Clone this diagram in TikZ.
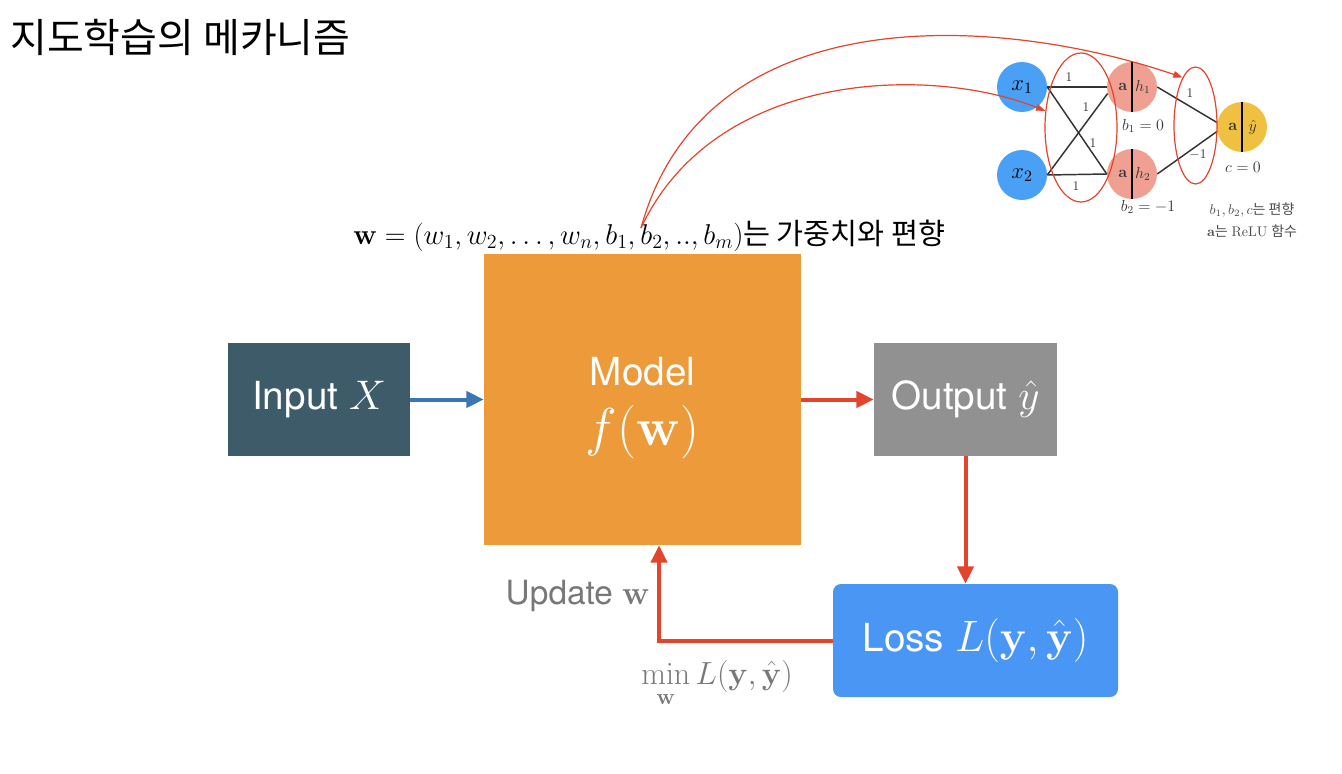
\RequirePackage{fix-cm}
\documentclass[tikz,border=0pt]{standalone}
\usepackage[no-math]{fontspec}
\usepackage{amsmath}
\setmainfont{TeX Gyre Heros}
\newfontfamily\kr{Noto Sans CJK KR}
\usetikzlibrary{arrows.meta,shapes.geometric}
\definecolor{inbox}{HTML}{3D5B69}
\definecolor{modelbox}{HTML}{EC9A3A}
\definecolor{outbox}{HTML}{919191}
\definecolor{lossbox}{HTML}{4A96F5}
\definecolor{redline}{HTML}{E3442B}
\definecolor{blueline}{HTML}{3A76B5}
\definecolor{xnode}{HTML}{4AA0F5}
\definecolor{hnode}{HTML}{F0A092}
\definecolor{ynode}{HTML}{F0C040}
\definecolor{graytxt}{HTML}{787878}
\tikzset{
  box/.style={rectangle, inner sep=0pt, text=white, font=\fontsize{29}{34}\selectfont},
  flow/.style={line width=3pt, -{Triangle[length=13pt,width=12pt]}},
  neuron/.style={circle, inner sep=0pt, minimum size=37.5pt},
  wire/.style={line width=1.1pt, draw=black!80},
  wt/.style={inner sep=0pt, font=\fontsize{10}{12}\selectfont, text=black!80},
  sel/.style={ellipse, draw=redline, line width=0.9pt, inner sep=0pt},
  pointer/.style={draw=redline, line width=0.9pt, -{Triangle[length=7pt,width=5pt]}, redline}
}

\begin{document}
\begin{tikzpicture}[x=0.75pt, y=-0.75pt]
  \useasboundingbox (0,0) rectangle (1342,774);
  % title
  \node[anchor=west, inner sep=0pt, font=\kr\fontsize{30}{36}\selectfont] (title) at (10,37) {지도학습의 메카니즘};
  % main blocks
  \node[box, fill=inbox, minimum width=136.5pt, minimum height=84.75pt] (input) at (319,399.5) {Input {\fontsize{31}{34}\selectfont$X$}};
  \node[box, fill=modelbox, minimum width=237.75pt, minimum height=218.25pt, align=center,
        font=\fontsize{29}{45}\selectfont] (model) at (642.5,399.5)
    {\rule{0pt}{34pt}Model\\\fontsize{40}{45}\selectfont$f(\mathbf{w})$};
  \node[box, fill=outbox, minimum width=137.25pt, minimum height=84.75pt] (output) at (965.5,399.5) {Output {\fontsize{31}{34}\selectfont$\hat{y}$}};
  \node[box, fill=lossbox, rounded corners=6pt, minimum width=213.75pt, minimum height=84.75pt] (loss) at (975.5,640.5)
    {Loss {\fontsize{33}{36}\selectfont$L(\mathbf{y},\hat{\mathbf{y}})$}};
  % flow arrows
  \draw[flow, blueline] (input) -- (model);
  \draw[flow, redline] (model) -- (output);
  \draw[flow, redline] (output.south) -- (output.south |- loss.north);
  \draw[flow, redline] (loss.west) -| ([xshift=12.4pt]model.south);
  % labels of the loop
  \node[anchor=east, inner sep=0pt, text=graytxt, font=\fontsize{25}{30}\selectfont] (upd) at (650,596) {Update $\mathbf{w}$};
  \node[inner sep=0pt, text=graytxt, font=\fontsize{24}{28}\selectfont] (minl) at (717,684)
    {$\displaystyle\min_{\mathbf{w}} L(\mathbf{y},\hat{\mathbf{y}})$};
  % parameter vector
  \node[anchor=west, inner sep=0pt, font=\fontsize{21.5}{26}\selectfont] (wdef) at (353,236)
    {$\mathbf{w} = (w_1, w_2, \dots, w_n, b_1, b_2, .., b_m)${\kr\fontsize{22}{26}\selectfont 는 가중치와 편향}};
  % small network
  \node[neuron, fill=xnode, font=\fontsize{17}{20}\selectfont] (x1) at (1022,87) {$x_1$};
  \node[neuron, fill=xnode, font=\fontsize{17}{20}\selectfont] (x2) at (1022,175) {$x_2$};
  \node[neuron, fill=hnode] (h1) at (1132,87) {};
  \node[neuron, fill=hnode] (h2) at (1132,174) {};
  \node[neuron, fill=ynode] (yh) at (1242,127) {};
  \foreach \n/\v in {h1/h_1, h2/h_2, yh/\hat{y}} {
    \draw[line width=1.1pt] (\n.north) -- (\n.south);
    \node[wt, font=\fontsize{12}{14}\selectfont] (\n-a) at ([xshift=-7pt]\n.center) {$\mathbf{a}$};
    \node[wt, font=\fontsize{12}{14}\selectfont] (\n-v) at ([xshift=8pt]\n.center) {$\v$};
  }
  \draw[wire] (x1.east) -- (h1.west);
  \draw[wire] (x1.east) -- (h2.west);
  \draw[wire] (x2.east) -- (h1.195);
  \draw[wire] (x2.east) -- (h2.west);
  \draw[wire] (h1.east) -- (yh.170);
  \draw[wire] (h2.east) -- (yh.190);
  % weights
  \node[wt] (w11) at (1069,77) {$1$};
  \node[wt] (w21) at (1086,107) {$1$};
  \node[wt] (w12) at (1093,143) {$1$};
  \node[wt] (w22) at (1076,186) {$1$};
  \node[wt] (v1) at (1190,93) {$1$};
  \node[wt] (v2) at (1198,155) {$-1$};
  % biases
  \node[wt, font=\fontsize{12}{14}\selectfont] (bias1) at (1143,126) {$b_1 = 0$};
  \node[wt, font=\fontsize{12}{14}\selectfont] (bias2) at (1148,207) {$b_2 = -1$};
  \node[wt, font=\fontsize{12}{14}\selectfont] (bias3) at (1243,167) {$c = 0$};
  \node[wt, text=black!70, font=\fontsize{10.5}{12}\selectfont] (note1) at (1252,210) {$b_1, b_2, c${\kr 는 편향}};
  \node[wt, text=black!70, font=\fontsize{10.5}{12}\selectfont] (note2) at (1252,231) {$\mathbf{a}${\kr 는} $\mathrm{ReLU}$ {\kr 함수}};
  % selected weights
  \node[sel, minimum width=54pt, minimum height=111.75pt] (layer1) at (1081,127.5) {};
  \node[sel, minimum width=32.25pt, minimum height=87.75pt] (layer2) at (1195.5,125.5) {};
  % pointers from the vector
  \coordinate (src) at (641,228);
  \draw[pointer] (src) .. controls (705,-5) and (1000,15) .. (layer2.105);
  \draw[pointer] (src) .. controls (715,70) and (930,65) .. (layer1.155);
\end{tikzpicture}
\end{document}
